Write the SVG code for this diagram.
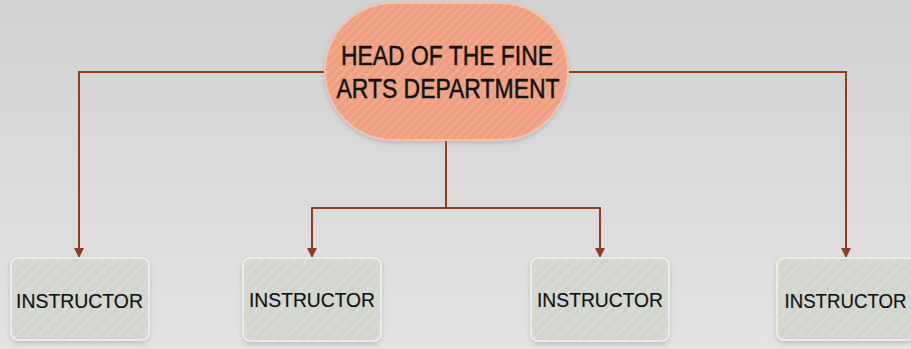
<svg xmlns="http://www.w3.org/2000/svg" width="911" height="349" viewBox="0 0 911 349">
  <defs>
    <linearGradient id="bg" x1="0" y1="0" x2="0" y2="1">
      <stop offset="0" stop-color="#d1d1d1"/>
      <stop offset="1" stop-color="#e3e3e3"/>
    </linearGradient>
    <pattern id="hatchHead" width="6" height="6" patternUnits="userSpaceOnUse" patternTransform="rotate(45)">
      <rect width="6" height="6" fill="#ee9f81"/>
      <rect width="2" height="6" fill="#f1aa8e"/>
    </pattern>
    <pattern id="hatchBox" width="8" height="8" patternUnits="userSpaceOnUse" patternTransform="rotate(45)">
      <rect width="8" height="8" fill="#d3d6cf"/>
      <rect width="1.5" height="8" fill="#dbded7"/>
    </pattern>
    <filter id="shadow" x="-10%" y="-10%" width="120%" height="130%">
      <feDropShadow dx="0" dy="2" stdDeviation="2" flood-color="#8a93a6" flood-opacity="0.45"/>
    </filter>
    <marker id="arrow" viewBox="0 0 10 10" refX="9" refY="5" markerWidth="10" markerHeight="10" markerUnits="userSpaceOnUse" orient="auto">
      <path d="M0,0 L10,5 L0,10 z" fill="#8e3d1f"/>
    </marker>
  </defs>
  <style>
    .conn { fill: none; stroke: #8e3d1f; stroke-width: 2; }
    .head { fill: url(#hatchHead); stroke: #f4c2ad; stroke-width: 2; filter: url(#shadow); }
    .box { fill: url(#hatchBox); stroke: #e9ece6; stroke-width: 2; filter: url(#shadow); }
    .t { font-family: "Liberation Sans", Arial, sans-serif; fill: #121212; text-anchor: middle; }
    .ht { font-size: 27px; stroke: #121212; stroke-width: 0.5; }
    .bt { font-size: 20px; stroke: #121212; stroke-width: 0.2; }
  </style>

  <rect width="911" height="349" fill="url(#bg)"/>

  <g id="connectors">
    <path class="conn" d="M325,72 H79 V257" marker-end="url(#arrow)"/>
    <path class="conn" d="M568,72 H846 V257" marker-end="url(#arrow)"/>
    <path class="conn" d="M446,140 V208 H312 V257" marker-end="url(#arrow)"/>
    <path class="conn" d="M446,208 H600 V257" marker-end="url(#arrow)"/>
  </g>

  <g id="head">
    <rect class="head" x="325" y="3" width="243" height="137" rx="68.5"/>
    <text class="t ht" x="447" y="65" textLength="212" lengthAdjust="spacingAndGlyphs">HEAD OF THE FINE</text>
    <text class="t ht" x="448" y="98" textLength="223" lengthAdjust="spacingAndGlyphs">ARTS DEPARTMENT</text>
  </g>

  <g id="instructor1">
    <rect class="box" x="11" y="258" width="138" height="82" rx="7"/>
    <text class="t bt" x="79.5" y="308" textLength="127" lengthAdjust="spacingAndGlyphs">INSTRUCTOR</text>
  </g>
  <g id="instructor2">
    <rect class="box" x="243" y="258" width="138" height="83" rx="7"/>
    <text class="t bt" x="312" y="307" textLength="126" lengthAdjust="spacingAndGlyphs">INSTRUCTOR</text>
  </g>
  <g id="instructor3">
    <rect class="box" x="531" y="258" width="138" height="83" rx="7"/>
    <text class="t bt" x="600" y="307" textLength="126" lengthAdjust="spacingAndGlyphs">INSTRUCTOR</text>
  </g>
  <g id="instructor4">
    <rect class="box" x="777" y="258" width="138" height="82" rx="7"/>
    <text class="t bt" x="845.5" y="308" textLength="122" lengthAdjust="spacingAndGlyphs">INSTRUCTOR</text>
  </g>
</svg>
